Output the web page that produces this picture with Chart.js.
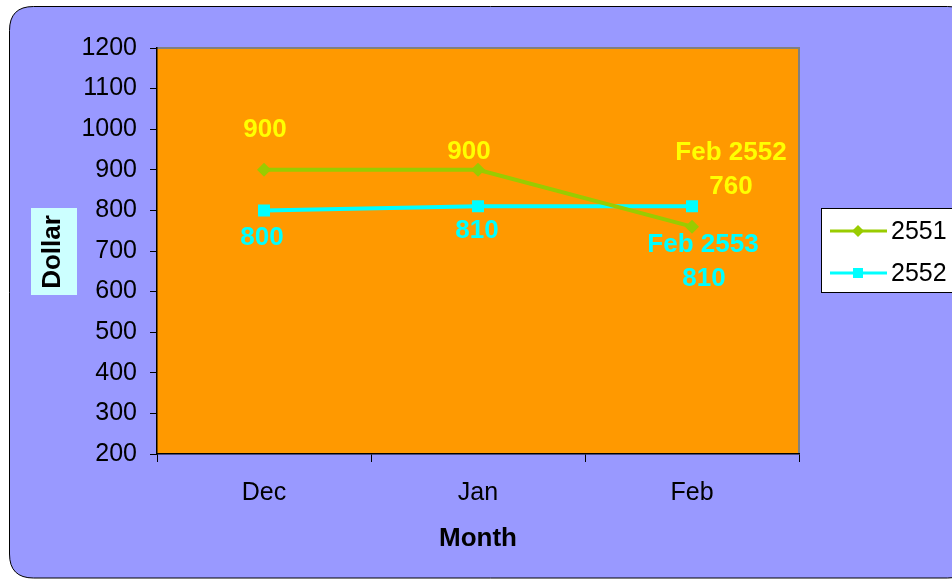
<!DOCTYPE html>
<html>
<head>
<meta charset="utf-8">
<script src="https://cdn.jsdelivr.net/npm/chart.js@4.4.1/dist/chart.umd.min.js"></script>
<style>
  html, body { margin: 0; padding: 0; background: #ffffff; }
  #wrap { width: 952px; height: 580px; position: relative; }
</style>
</head>
<body>
<div id="wrap"><canvas id="c" width="952" height="580"></canvas></div>
<script>
// ---- data ----
const categories = ['Dec', 'Jan', 'Feb'];
const seriesNames = ['2551', '2552'];
const values2551 = [900, 900, 760];
const values2552 = [800, 810, 810];
const labels2551 = [['900'], ['900'], ['Feb 2552', '760']];
const labels2552 = [['800'], ['810'], ['Feb 2553', '810']];
const yMin = 200, yMax = 1200, yStep = 100;
const xTitle = 'Month';
const yTitle = 'Dollar';

// ---- styling ----
const FONT = '"Liberation Sans", Arial, Helvetica, sans-serif';
const COL_BG = '#9999FF';
const COL_PLOT = '#FF9900';
const COL_GREEN = '#99CC00';
const COL_CYAN = '#00FFFF';
const COL_YELLOW = '#FFFF00';

// data label offsets (dx, dy of each line relative to point)
const labelOffsets = [
  [[[1, -40]], [[-9, -18]], [[39, -74], [39, -40]]],
  [[[-2, 27]], [[-1, 24]], [[11, 38], [12, 72]]]
];

const bgPlugin = {
  id: 'bg',
  beforeDraw(chart) {
    const ctx = chart.ctx;
    const a = chart.chartArea;
    ctx.save();
    // outer rounded background
    const x = 9.5, y = 6.5, w = 962, h = 571.5, r = 24;
    ctx.beginPath();
    ctx.moveTo(x + r, y);
    ctx.lineTo(x + w - r, y);
    ctx.quadraticCurveTo(x + w, y, x + w, y + r);
    ctx.lineTo(x + w, y + h - r);
    ctx.quadraticCurveTo(x + w, y + h, x + w - r, y + h);
    ctx.lineTo(x + r, y + h);
    ctx.quadraticCurveTo(x, y + h, x, y + h - r);
    ctx.lineTo(x, y + r);
    ctx.quadraticCurveTo(x, y, x + r, y);
    ctx.closePath();
    ctx.fillStyle = COL_BG;
    ctx.fill();
    ctx.lineWidth = 1;
    ctx.strokeStyle = '#000000';
    ctx.stroke();
    // plot area
    ctx.fillStyle = COL_PLOT;
    ctx.fillRect(a.left, a.top, a.right - a.left, a.bottom - a.top);
    ctx.strokeStyle = '#808080';
    ctx.lineWidth = 2;
    ctx.beginPath();
    ctx.moveTo(a.left, a.top);
    ctx.lineTo(a.right, a.top);
    ctx.lineTo(a.right, a.bottom);
    ctx.stroke();
    ctx.restore();
  },
  afterDraw(chart) {
    const ctx = chart.ctx;
    const a = chart.chartArea;
    ctx.save();
    // y title box
    ctx.fillStyle = '#CCFFFF';
    ctx.fillRect(31, 208, 46, 87);
    ctx.translate(53, 252);
    ctx.rotate(-Math.PI / 2);
    ctx.fillStyle = '#000000';
    ctx.font = 'bold 26px ' + FONT;
    ctx.textAlign = 'center';
    ctx.textBaseline = 'middle';
    ctx.fillText(yTitle, 0, 0);
    ctx.restore();
    // x title
    ctx.save();
    ctx.fillStyle = '#000000';
    ctx.font = 'bold 26px ' + FONT;
    ctx.textAlign = 'center';
    ctx.textBaseline = 'middle';
    ctx.fillText(xTitle, (a.left + a.right) / 2, 539);
    ctx.restore();
    // legend
    ctx.save();
    ctx.fillStyle = '#FFFFFF';
    ctx.fillRect(821.5, 208.5, 140, 84);
    ctx.strokeStyle = '#000000';
    ctx.lineWidth = 1;
    ctx.strokeRect(821.5, 208.5, 140, 84);
    const rows = [231, 273];
    chart.data.datasets.forEach((ds, i) => {
      const yy = rows[i];
      ctx.strokeStyle = ds.borderColor;
      ctx.lineWidth = 3;
      ctx.beginPath();
      ctx.moveTo(830, yy);
      ctx.lineTo(887, yy);
      ctx.stroke();
      ctx.fillStyle = ds.pointBackgroundColor;
      if (ds.pointStyle === 'rectRot') {
        ctx.beginPath();
        ctx.moveTo(858, yy - 6);
        ctx.lineTo(864, yy);
        ctx.lineTo(858, yy + 6);
        ctx.lineTo(852, yy);
        ctx.closePath();
        ctx.fill();
      } else {
        ctx.fillRect(853, yy - 5, 10, 10);
      }
      ctx.fillStyle = '#000000';
      ctx.font = '25px ' + FONT;
      ctx.textAlign = 'left';
      ctx.textBaseline = 'middle';
      ctx.fillText(ds.label, 891, yy + 1);
    });
    ctx.restore();
  },
  afterDatasetsDraw(chart) {
    const ctx = chart.ctx;
    const allLabels = [labels2551, labels2552];
    const colors = [COL_YELLOW, COL_CYAN];
    ctx.save();
    ctx.font = 'bold 26px ' + FONT;
    ctx.textAlign = 'center';
    ctx.textBaseline = 'middle';
    chart.data.datasets.forEach((ds, i) => {
      const meta = chart.getDatasetMeta(i);
      ctx.fillStyle = colors[i];
      meta.data.forEach((pt, j) => {
        allLabels[i][j].forEach((txt, k) => {
          const off = labelOffsets[i][j][k];
          ctx.fillText(txt, pt.x + off[0], pt.y + off[1]);
        });
      });
    });
    ctx.restore();
  }
};

new Chart(document.getElementById('c'), {
  type: 'line',
  data: {
    labels: categories,
    datasets: [
      {
        label: seriesNames[0],
        data: values2551,
        borderColor: COL_GREEN,
        backgroundColor: COL_GREEN,
        pointBackgroundColor: COL_GREEN,
        pointBorderColor: COL_GREEN,
        pointStyle: 'rectRot',
        pointRadius: 7,
        pointBorderWidth: 0,
        borderWidth: 4,
        tension: 0,
        fill: false
      },
      {
        label: seriesNames[1],
        data: values2552,
        borderColor: COL_CYAN,
        backgroundColor: COL_CYAN,
        pointBackgroundColor: COL_CYAN,
        pointBorderColor: COL_CYAN,
        pointStyle: 'rect',
        pointRadius: 8.5,
        pointBorderWidth: 0,
        borderWidth: 4,
        tension: 0,
        fill: false
      }
    ]
  },
  options: {
    responsive: false,
    animation: false,
    devicePixelRatio: 1,
    layout: { padding: { left: 0, right: 153, top: 48, bottom: 0 } },
    plugins: {
      legend: { display: false },
      tooltip: { enabled: false },
      title: { display: false }
    },
    scales: {
      x: {
        type: 'category',
        offset: true,
        grid: {
          offset: true,
          drawOnChartArea: false,
          drawTicks: true,
          tickLength: 8,
          color: '#000000',
          lineWidth: 1
        },
        border: { display: true, color: '#000000', width: 1.5 },
        ticks: {
          color: '#000000',
          font: { family: FONT, size: 25 },
          padding: 16,
          maxRotation: 0
        },
        afterFit(scale) { scale.height = 126; }
      },
      y: {
        min: yMin,
        max: yMax,
        grid: {
          drawOnChartArea: false,
          drawTicks: true,
          tickLength: 7,
          color: '#000000',
          lineWidth: 1
        },
        border: { display: true, color: '#000000', width: 1.5 },
        ticks: {
          stepSize: yStep,
          color: '#000000',
          font: { family: FONT, size: 25 },
          padding: 13,
          callback: (v) => String(v)
        },
        afterFit(scale) { scale.width = 157; }
      }
    }
  },
  plugins: [bgPlugin]
});
</script>
</body>
</html>
